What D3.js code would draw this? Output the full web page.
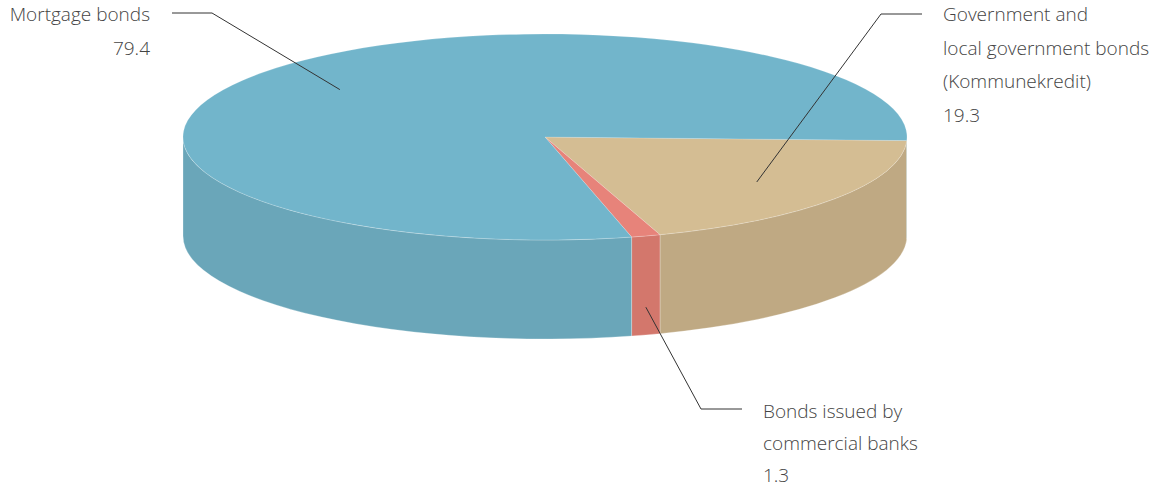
<!DOCTYPE html>
<html>
<head>
<meta charset="utf-8">
<script src="https://cdn.jsdelivr.net/npm/d3@7"></script>
<style>
  html, body { margin: 0; padding: 0; background: #fff; }
  svg { display: block; }
  text { font-family: "Open Sans", "Lato", sans-serif; font-weight: 300; font-size: 19px; fill: #444; }
</style>
</head>
<body>
<script>
// data, in drawing order (clockwise)
const categories = ["Government and local government bonds (Kommunekredit)", "Bonds issued by commercial banks", "Mortgage bonds"];
const values = [19.3, 1.3, 79.4];
const labelLines = [
  ["Government and", "local government bonds", "(Kommunekredit)"],
  ["Bonds issued by", "commercial banks"],
  ["Mortgage bonds"]
];
const topColors = ["#d4bd93", "#e7837a", "#72b5cb"];
const sideColors = ["#bfa983", "#d3776c", "#6aa6b9"];

const W = 1165, H = 488;
const cx = 545, cy = 137, rx = 362, ry = 103, depth = 99;

const svg = d3.select("body").append("svg").attr("width", W).attr("height", H);

const start = 92 * Math.PI / 180;
const pie = d3.pie().sort(null).value(d => d.value).startAngle(start).endAngle(start + 2 * Math.PI);
const slices = pie(values.map((v, i) => ({ value: v, i: i })));

const color = d3.scaleOrdinal().domain(d3.range(values.length)).range(topColors);
const side = d3.scaleOrdinal().domain(d3.range(values.length)).range(sideColors);

function pt(a, k, dy) {
  k = k == null ? 1 : k;
  return [cx + k * rx * Math.sin(a), cy - k * ry * Math.cos(a) + (dy || 0)];
}

function topPath(d) {
  const p0 = pt(d.startAngle), p1 = pt(d.endAngle);
  const large = d.endAngle - d.startAngle > Math.PI ? 1 : 0;
  return "M" + cx + "," + cy + "L" + p0 + "A" + rx + "," + ry + " 0 " + large + " 1 " + p1 + "Z";
}

// outer wall pieces that lie in the front half of the ellipse
function wallPaths(d) {
  const out = [];
  for (let k = 0; k < 2; k++) {
    const s = Math.max(d.startAngle, Math.PI / 2 + 2 * k * Math.PI);
    const e = Math.min(d.endAngle, 3 * Math.PI / 2 + 2 * k * Math.PI);
    if (e > s) {
      out.push("M" + pt(s) + "A" + rx + "," + ry + " 0 0 1 " + pt(e) +
        "L" + pt(e, 1, depth) + "A" + rx + "," + ry + " 0 0 0 " + pt(s, 1, depth) + "Z");
    }
  }
  return out;
}

const walls = [];
slices.forEach(d => wallPaths(d).forEach(p => walls.push({ path: p, i: d.data.i })));

svg.append("g").selectAll("path").data(walls).join("path")
  .attr("d", d => d.path)
  .attr("fill", d => side(d.i))
  .attr("stroke", "rgba(255,255,255,0.45)")
  .attr("stroke-width", 0.6);

svg.append("g").selectAll("path").data(slices).join("path")
  .attr("d", topPath)
  .attr("fill", d => color(d.data.i))
  .attr("stroke", "rgba(255,255,255,0.35)")
  .attr("stroke-width", 0.5);

// labels: text block position, anchor, elbow and end of leader
const labelLayout = [
  { x: 943, y: 21, gap: 33.5, anchor: "start", elbow: [881, 14], end: [922, 14], onSide: false },
  { x: 763, y: 418, gap: 32, anchor: "start", elbow: [701, 409], end: [742, 409], onSide: true },
  { x: 150, y: 21, gap: 33.5, anchor: "end", elbow: [212, 13], end: [172, 13], onSide: false }
];

const labels = svg.append("g");
slices.forEach(d => {
  const i = d.data.i, L = labelLayout[i];
  const mid = (d.startAngle + d.endAngle) / 2;
  const a = L.onSide ? pt(mid, 1, depth * 0.72) : pt(mid, 0.73);
  labels.append("path")
    .attr("d", "M" + a + "L" + L.elbow + "L" + L.end)
    .attr("fill", "none")
    .attr("stroke", "#333")
    .attr("stroke-width", 1);
  const t = labels.append("text").attr("text-anchor", L.anchor);
  labelLines[i].concat([d3.format(".1f")(values[i])]).forEach((s, j) => {
    t.append("tspan").attr("x", L.x).attr("y", L.y + j * L.gap).text(s);
  });
});
</script>
</body>
</html>
